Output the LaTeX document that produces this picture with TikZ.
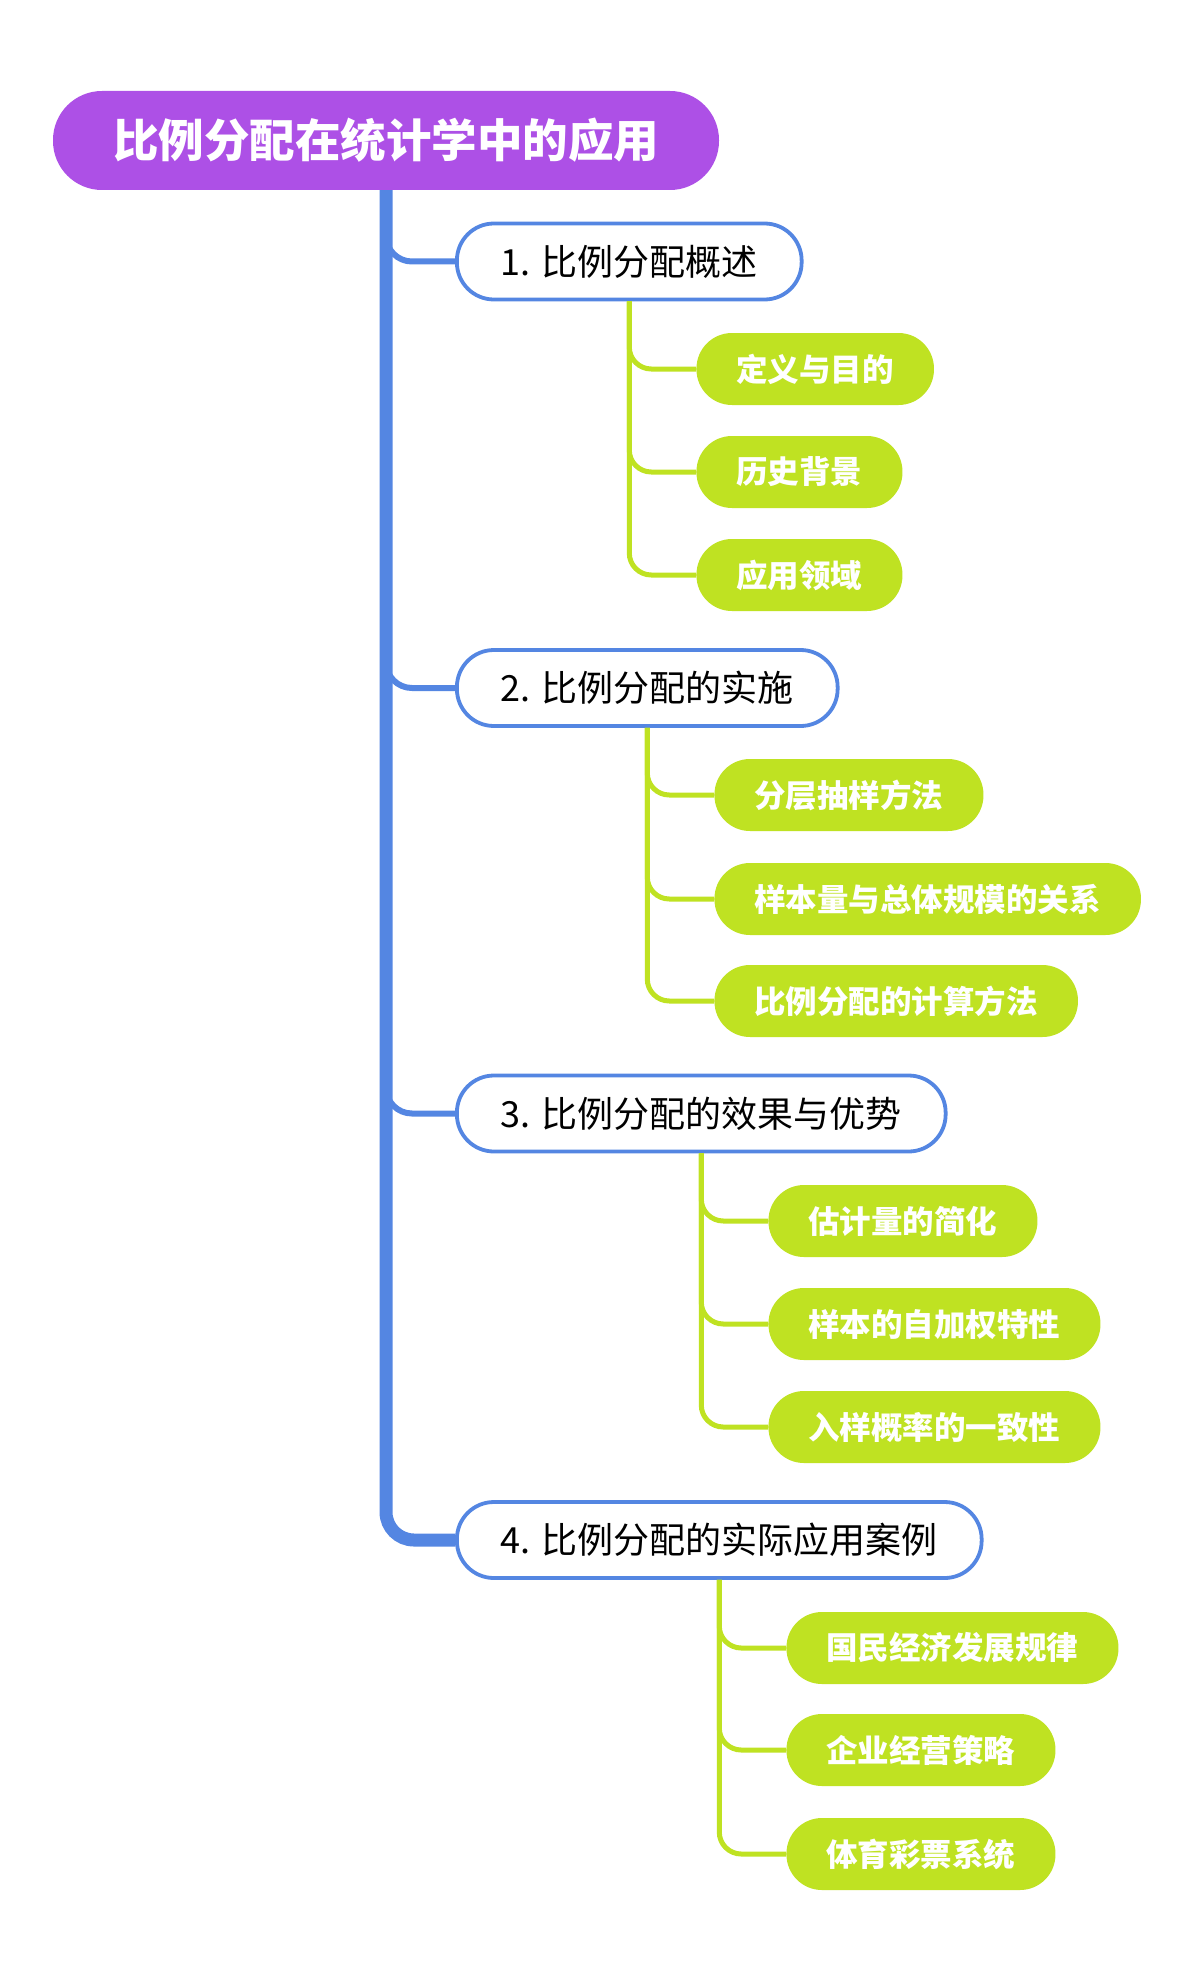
\documentclass[tikz,border=0pt]{standalone}
\usepackage{fontspec}
\setmainfont{Noto Sans CJK SC}
\definecolor{rootpurple}{RGB}{173,80,230}
\definecolor{topicblue}{RGB}{84,134,226}
\definecolor{leafgreen}{RGB}{191,226,34}
\tikzset{
  rootnode/.style={rectangle, rounded corners=49pt, fill=rootpurple, text=white,
    font=\fontsize{45.5}{50}\selectfont\bfseries, minimum height=99pt, inner xsep=60pt},
  topicnode/.style={rectangle, rounded corners=37pt, draw=topicblue, line width=3.8pt, fill=white,
    font=\fontsize{36}{40}\selectfont, minimum height=76pt, inner xsep=44pt, anchor=west},
  leafnode/.style={rectangle, rounded corners=35.5pt, fill=leafgreen, text=white,
    font=\fontsize{31.5}{36}\selectfont\bfseries, minimum height=72pt, inner xsep=40pt, anchor=west},
  trunk/.style={draw=topicblue, line width=13pt, rounded corners=28pt},
  twig/.style={draw=topicblue, line width=6pt, rounded corners=26pt},
  leaflink/.style={draw=leafgreen, line width=5pt, rounded corners=22pt},
}
\begin{document}
\begin{tikzpicture}[x=1pt, y=-1pt]
\useasboundingbox (0,0) rectangle (1200,1977);

% connectors first, nodes on top
\coordinate (top) at (386,180);
\draw[trunk] (top) -- (386,1400) |- (455,1540);
\draw[twig] (top) |- (455,261.5);
\draw[twig] (top) |- (455,688);
\draw[twig] (top) |- (455,1113.5);

\node[rootnode] (root) at (386,140.5) {比例分配在统计学中的应用};

\node[topicnode] (n1) at (455,261.5) {1. 比例分配概述};
\node[topicnode] (n2) at (455,688) {2. 比例分配的实施};
\node[topicnode] (n3) at (455,1113.5) {3. 比例分配的效果与优势};
\node[topicnode] (n4) at (455,1540) {4. 比例分配的实际应用案例};

\path (n1.south) ++(67,0) coordinate (g1);
\path (n2.south) ++(67,0) coordinate (g2);
\path (n3.south) ++(67,0) coordinate (g3);
\path (n4.south) ++(67,0) coordinate (g4);

\node[leafnode] (c11) at (g1 |- 0,369) {定义与目的};
\node[leafnode] (c12) at (g1 |- 0,472) {历史背景};
\node[leafnode] (c13) at (g1 |- 0,575) {应用领域};

\node[leafnode] (c21) at (g2 |- 0,795) {分层抽样方法};
\node[leafnode] (c22) at (g2 |- 0,899) {样本量与总体规模的关系};
\node[leafnode] (c23) at (g2 |- 0,1001) {比例分配的计算方法};

\node[leafnode] (c31) at (g3 |- 0,1221) {估计量的简化};
\node[leafnode] (c32) at (g3 |- 0,1324) {样本的自加权特性};
\node[leafnode] (c33) at (g3 |- 0,1427) {入样概率的一致性};

\node[leafnode] (c41) at (g4 |- 0,1648) {国民经济发展规律};
\node[leafnode] (c42) at (g4 |- 0,1750) {企业经营策略};
\node[leafnode] (c43) at (g4 |- 0,1854) {体育彩票系统};

\begin{scope}[on background layer/.try]
\foreach \p/\c in {n1/c11,n1/c12,n1/c13,n2/c21,n2/c22,n2/c23,
                   n3/c31,n3/c32,n3/c33,n4/c41,n4/c42,n4/c43}
  \draw[leaflink] (\p.south) |- (\c.west);
\end{scope}
\end{tikzpicture}
\end{document}
